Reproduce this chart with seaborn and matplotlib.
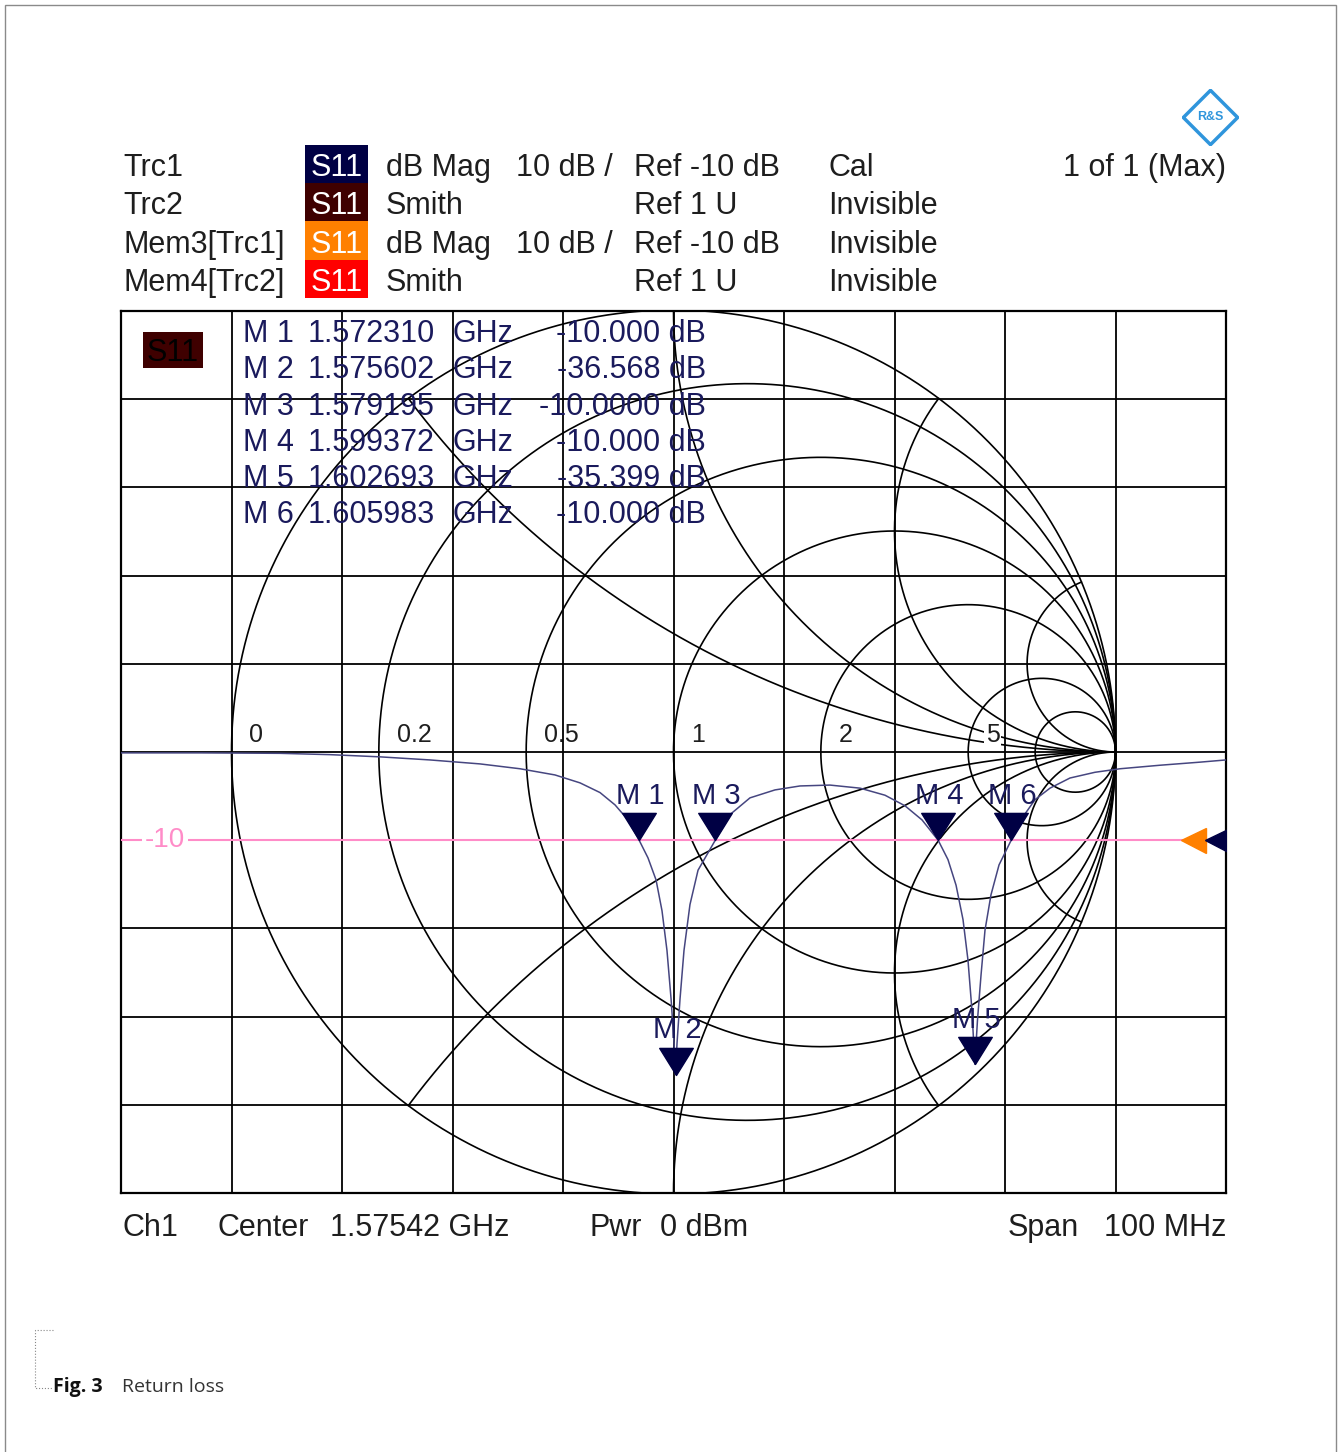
import numpy as np
import pandas as pd
import matplotlib
matplotlib.use("Agg")
import matplotlib.pyplot as plt
import seaborn as sns
from matplotlib.patches import Rectangle, Polygon
from matplotlib.path import Path
from matplotlib.lines import Line2D

# S11 dB Mag trace
freq_mhz = [1525.42, 1532.57, 1539.81, 1544.33, 1548.86, 1553.38, 1557.91, 1561.53,
            1564.69, 1566.96, 1568.77, 1570.13, 1571.30, 1572.31, 1573.11, 1573.84,
            1574.38, 1574.83, 1575.20, 1575.47, 1575.60, 1575.74, 1576.01, 1576.37,
            1576.91, 1577.64, 1579.20, 1580.53, 1582.34, 1584.60, 1586.87, 1589.58,
            1592.30, 1594.56, 1596.37, 1597.91, 1599.37, 1600.26, 1600.99, 1601.62,
            1602.07, 1602.43, 1602.69, 1602.93, 1603.25, 1603.61, 1604.15, 1604.88,
            1605.98, 1606.96, 1608.14, 1609.49, 1611.30, 1613.56, 1615.83, 1619.45,
            1623.07, 1625.42]
s11_db = [-0.1, -0.1, -0.15, -0.3, -0.55, -0.9, -1.35, -1.9,
          -2.6, -3.5, -4.6, -6.0, -7.7, -10.0, -12.0, -14.5,
          -18.0, -22.5, -28.0, -33.0, -36.57, -33.0, -28.0, -22.5,
          -17.3, -13.4, -10.0, -7.1, -5.2, -4.3, -3.85, -3.75,
          -4.1, -4.9, -6.1, -7.7, -10.0, -12.2, -15.1, -19.0,
          -23.6, -29.3, -35.4, -30.4, -25.3, -20.2, -16.2, -12.8,
          -10.0, -7.5, -5.4, -4.1, -2.95, -2.3, -1.9, -1.5,
          -1.15, -0.9]

marker_names = ["M 1", "M 2", "M 3", "M 4", "M 5", "M 6"]
marker_ghz = [1.572310, 1.575602, 1.579195, 1.599372, 1.602693, 1.605983]
marker_db = [-10.000, -36.568, -10.0000, -10.000, -35.399, -10.000]
marker_db_text = ["-10.000", "-36.568", "-10.0000", "-10.000", "-35.399", "-10.000"]

smith_r = [0, 0.2, 0.5, 1, 2, 5, 10]
smith_x = [0.5, 1, 2, 5, -0.5, -1, -2, -5]
smith_labels = ["0", "0.2", "0.5", "1", "2", "5"]

center_mhz = 1575.42
span_mhz = 100
ref_db = -10
db_per_div = 10

header_names = ["Trc1", "Trc2", "Mem3[Trc1]", "Mem4[Trc2]"]
header_colors = ["#000044", "#3f0000", "#ff8000", "#ff0000"]
header_fmt = ["dB Mag", "Smith", "dB Mag", "Smith"]
header_scale = ["10 dB /", "", "10 dB /", ""]
header_ref = ["Ref -10 dB", "Ref 1 U", "Ref -10 dB", "Ref 1 U"]
header_state = ["Cal", "Invisible", "Invisible", "Invisible"]

W, H = 1338, 1452
sns.set_style("white")
plt.rcParams["font.family"] = ["Liberation Sans", "DejaVu Sans"]

fig = plt.figure(figsize=(W / 100, H / 100), dpi=100)


def fx(x):
    return x / W


def fy(y):
    return 1 - y / H


NAVY = "#1a1a5c"
TXT = "#1e1e1e"

box = [fx(121), fy(1193), (1226 - 121) / W, (1193 - 311) / H]
ax_s = fig.add_axes(box, zorder=0)
ax = fig.add_axes(box, zorder=1)
ax.patch.set_alpha(0)

# Smith grid
t = np.linspace(-np.pi / 2 + 1e-3, np.pi / 2 - 1e-3, 3000)
for r in smith_r:
    z = r + 1j * np.tan(t)
    g = (z - 1) / (z + 1)
    ax_s.plot(g.real, g.imag, color="black", lw=1.2)
s = np.linspace(0, np.pi / 2 - 1e-3, 2000)
for x in smith_x:
    z = np.tan(s) + 1j * x
    g = (z - 1) / (z + 1)
    ax_s.plot(g.real, g.imag, color="black", lw=1.2)
for r, lab in zip(smith_r, smith_labels):
    gx = (r - 1) / (r + 1)
    ax_s.text(gx + 0.04, 0.022, lab, ha="left", va="baseline", fontsize=18,
              color=TXT, zorder=10,
              bbox=dict(facecolor="white", edgecolor="none", pad=1))
ax_s.set_xlim(-1.25, 1.25)
ax_s.set_ylim(-441 / 442, 441 / 442)
ax_s.set_axis_off()

# dB Mag trace
df = pd.DataFrame({"freq": freq_mhz, "db": s11_db})
sns.lineplot(data=df, x="freq", y="db", ax=ax, color="#464680", lw=1.1, zorder=5)

ax.axhline(ref_db, color="#ff8cc8", lw=1.5, zorder=4)
ax.text(0.04, ref_db, "-10", transform=ax.get_yaxis_transform(), ha="center",
        va="center", fontsize=20, color="#ff8cc8", zorder=6,
        bbox=dict(facecolor="white", edgecolor="none", pad=2))

tri = Path([(-0.62, 1.0), (0.62, 1.0), (0.0, 0.0), (-0.62, 1.0)],
           [Path.MOVETO, Path.LINETO, Path.LINETO, Path.CLOSEPOLY])
mk_mhz = [g * 1000 for g in marker_ghz]
ax.plot(mk_mhz, marker_db, ls="none", marker=tri, ms=39, color="#000044",
        mec="#000044", zorder=7)
for name, f, d in zip(marker_names, mk_mhz, marker_db):
    ax.annotate(name, (f, d), xytext=(1, 32), textcoords="offset points",
                ha="center", va="center", fontsize=21, color=NAVY, zorder=8)

# reference level arrows on the right edge
ax.plot([0.970], [ref_db], marker="<", ms=18, color="#ff8000",
        transform=ax.get_yaxis_transform(), zorder=8)
ax.plot([0.992], [ref_db], marker="<", ms=18, color="#000044",
        transform=ax.get_yaxis_transform(), zorder=8)

ax.set_xlim(center_mhz - span_mhz / 2, center_mhz + span_mhz / 2)
ax.set_ylim(ref_db - 4 * db_per_div, ref_db + 6 * db_per_div)
ax.set_xticks(np.linspace(center_mhz - span_mhz / 2, center_mhz + span_mhz / 2, 11))
ax.set_yticks(np.arange(-50, 51, db_per_div))
ax.grid(True, color="black", lw=1.3)
ax.tick_params(length=0, labelbottom=False, labelleft=False)
ax.set_xlabel("")
ax.set_ylabel("")
for sp in ax.spines.values():
    sp.set_visible(True)
    sp.set_color("black")
    sp.set_linewidth(1.6)

# header block
row_y = [168, 206, 245, 283]
row_top = [145, 183, 221, 259.5]
for i in range(4):
    y = row_y[i]
    fig.text(fx(123), fy(y), header_names[i], fontsize=22, color=TXT, va="center")
    fig.add_artist(Rectangle((fx(305), fy(row_top[i] + 38.5)), 63 / W, 38.5 / H,
                             transform=fig.transFigure, facecolor=header_colors[i],
                             edgecolor="none", zorder=4))
    fig.text(fx(336.5), fy(y), "S11", fontsize=22, color="white", ha="center",
             va="center", zorder=5)
    fig.text(fx(386), fy(y), header_fmt[i], fontsize=22, color=TXT, va="center")
    fig.text(fx(516), fy(y), header_scale[i], fontsize=22, color=TXT, va="center")
    fig.text(fx(634), fy(y), header_ref[i], fontsize=22, color=TXT, va="center")
    fig.text(fx(828), fy(y), header_state[i], fontsize=22, color=TXT, va="center")
fig.text(fx(1226), fy(168), "1 of 1 (Max)", fontsize=22, color=TXT, ha="right", va="center")

# marker table inside the diagram
fig.add_artist(Rectangle((fx(143), fy(368)), 60 / W, 36 / H, transform=fig.transFigure,
                         facecolor="#3f0000", edgecolor="none", zorder=4))
fig.text(fx(173), fy(353), "S11", fontsize=22, color="black", ha="center",
         va="center", zorder=5)
tab_y = [334, 370, 407, 443, 479, 515]
for name, g, dtxt, y in zip(marker_names, marker_ghz, marker_db_text, tab_y):
    fig.text(fx(243), fy(y), name, fontsize=22, color=NAVY, va="center", zorder=5)
    fig.text(fx(308), fy(y), f"{g:.6f}", fontsize=22, color=NAVY, va="center", zorder=5)
    fig.text(fx(452), fy(y), "GHz", fontsize=22, color=NAVY, va="center", zorder=5)
    fig.text(fx(706), fy(y), dtxt + " dB", fontsize=22, color=NAVY, ha="right",
             va="center", zorder=5)

# channel line below the diagram
bot_y = 1228
fig.text(fx(123), fy(bot_y), "Ch1", fontsize=22, color=TXT, va="center")
fig.text(fx(218), fy(bot_y), "Center", fontsize=22, color=TXT, va="center")
fig.text(fx(330), fy(bot_y), f"{center_mhz / 1000:.5f} GHz", fontsize=22, color=TXT, va="center")
fig.text(fx(590), fy(bot_y), "Pwr", fontsize=22, color=TXT, va="center")
fig.text(fx(660), fy(bot_y), "0 dBm", fontsize=22, color=TXT, va="center")
fig.text(fx(1008), fy(bot_y), "Span", fontsize=22, color=TXT, va="center")
fig.text(fx(1226), fy(bot_y), f"{span_mhz} MHz", fontsize=22, color=TXT, ha="right", va="center")

# R&S logo
ax_logo = fig.add_axes([fx(1182), fy(146), 57 / W, 57 / H])
ax_logo.add_patch(Polygon([(0, 1), (1, 0), (0, -1), (-1, 0)], closed=True,
                          facecolor="none", edgecolor="#2f95dc", lw=2.5))
ax_logo.text(0, 0, "R&S", ha="center", va="center", fontsize=9, color="#2f95dc",
             fontweight="bold")
ax_logo.set_xlim(-1.05, 1.05)
ax_logo.set_ylim(-1.05, 1.05)
ax_logo.set_axis_off()

# page border and caption
fig.add_artist(Rectangle((fx(5), -0.01), 1331 / W, 1.01 - 5 / H, transform=fig.transFigure,
                         facecolor="none", edgecolor="#8a8a8a", lw=1))
fig.add_artist(Line2D([fx(53), fx(35), fx(35), fx(53)], [fy(1330), fy(1330), fy(1388), fy(1388)],
                      transform=fig.transFigure, color="#888888", lw=0.8, ls=":"))
fig.text(fx(53), fy(1387), "Fig. 3", fontsize=14, fontweight="bold", color="#111111",
         va="center", family=["Open Sans", "DejaVu Sans"])
fig.text(fx(122), fy(1387), "Return loss", fontsize=14, color="#333333",
         va="center", family=["Open Sans", "DejaVu Sans"])

fig.savefig("out.png", dpi=100, facecolor="white")
